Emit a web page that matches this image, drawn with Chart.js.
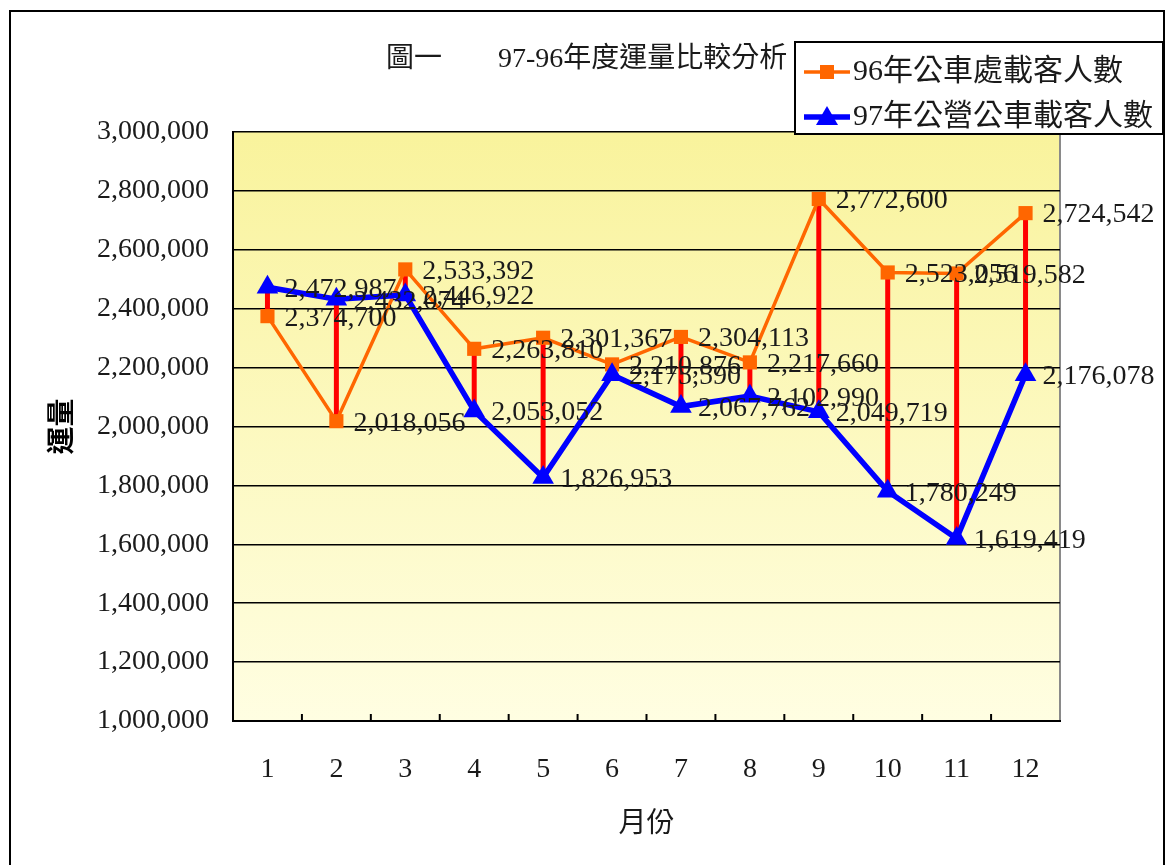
<!DOCTYPE html>
<html>
<head>
<meta charset="utf-8">
<script src="https://cdn.jsdelivr.net/npm/chart.js@4.4.1/dist/chart.umd.min.js"></script>
<style>
  html, body { margin: 0; padding: 0; background: #ffffff; }
  #wrap { width: 1167px; height: 865px; }
</style>
</head>
<body>
<div id="wrap"><canvas id="c" width="1167" height="865"></canvas></div>
<script>
// 月份
const months = ['1', '2', '3', '4', '5', '6', '7', '8', '9', '10', '11', '12'];
// 96年公車處載客人數
const riders96 = [2374700, 2018056, 2533392, 2263810, 2301367, 2210876, 2304113, 2217660, 2772600, 2523056, 2519582, 2724542];
// 97年公營公車載客人數
const riders97 = [2472987, 2432074, 2446922, 2053052, 1826953, 2175590, 2067762, 2102990, 2049719, 1780249, 1619419, 2176078];
// 縱軸刻度範圍
const yMin = 1000000;
const yMax = 3000000;
const yStep = 200000;

const chartTitle = '圖一\u3000\u300097-96年度運量比較分析';
const seriesNames = ['96年公車處載客人數', '97年公營公車載客人數'];

const SERIF = "'Liberation Serif', 'Noto Sans CJK TC', serif";
const fmt = v => v.toLocaleString('en-US');

// 背景、外框、繪圖區漸層
const backdrop = {
  id: 'backdrop',
  beforeDraw(chart) {
    const { ctx, chartArea: a } = chart;
    ctx.save();
    ctx.fillStyle = '#ffffff';
    ctx.fillRect(0, 0, chart.width, chart.height);
    ctx.strokeStyle = '#000000';
    ctx.lineWidth = 2;
    ctx.strokeRect(10, 11, 1154, 870);
    const g = ctx.createLinearGradient(0, a.top, 0, a.bottom);
    g.addColorStop(0, '#f9f39c');
    g.addColorStop(1, '#fffee2');
    ctx.fillStyle = g;
    ctx.fillRect(a.left, a.top, a.right - a.left, a.bottom - a.top);
    ctx.strokeStyle = '#8a8a8a';
    ctx.lineWidth = 2;
    ctx.beginPath();
    ctx.moveTo(a.right, a.top);
    ctx.lineTo(a.right, a.bottom);
    ctx.stroke();
    ctx.restore();
  }
};

// 高低連線 (兩年度同月份之間的紅線)
const hiLoLines = {
  id: 'hiLoLines',
  beforeDatasetsDraw(chart) {
    const { ctx } = chart;
    const m0 = chart.getDatasetMeta(0).data;
    const m1 = chart.getDatasetMeta(1).data;
    ctx.save();
    ctx.strokeStyle = '#ff0000';
    ctx.lineWidth = 5;
    for (let i = 0; i < m0.length; i++) {
      ctx.beginPath();
      ctx.moveTo(m0[i].x, m0[i].y);
      ctx.lineTo(m1[i].x, m1[i].y);
      ctx.stroke();
    }
    ctx.restore();
  }
};

// 數值標籤、類別刻度、標題、圖例
const overlay = {
  id: 'overlay',
  afterDatasetsDraw(chart) {
    const { ctx, chartArea: a } = chart;
    const xs = chart.scales.x;
    ctx.save();
    // 類別間刻度 (向內)
    ctx.strokeStyle = '#000000';
    ctx.lineWidth = 2;
    for (let i = 1; i < months.length; i++) {
      const bx = (xs.getPixelForValue(i - 1) + xs.getPixelForValue(i)) / 2;
      ctx.beginPath();
      ctx.moveTo(bx, a.bottom);
      ctx.lineTo(bx, a.bottom - 7);
      ctx.stroke();
    }
    // 數值標籤
    ctx.fillStyle = '#1a1a1a';
    ctx.font = '28px ' + SERIF;
    ctx.textAlign = 'left';
    ctx.textBaseline = 'middle';
    [0, 1].forEach(d => {
      const pts = chart.getDatasetMeta(d).data;
      const vals = chart.data.datasets[d].data;
      pts.forEach((p, i) => {
        ctx.fillText(fmt(vals[i]), p.x + 17, p.y + 2);
      });
    });
    ctx.restore();
  },
  afterDraw(chart) {
    const { ctx } = chart;
    ctx.save();
    // 標題
    ctx.fillStyle = '#1a1a1a';
    ctx.font = '28px ' + SERIF;
    ctx.textAlign = 'left';
    ctx.textBaseline = 'middle';
    ctx.fillText(chartTitle, 386, 60);
    // 圖例
    const bx = 795, by = 42, bw = 368, bh = 92;
    ctx.fillStyle = '#ffffff';
    ctx.fillRect(bx, by, bw, bh);
    ctx.strokeStyle = '#000000';
    ctx.lineWidth = 2;
    ctx.strokeRect(bx, by, bw, bh);
    const ds = chart.data.datasets;
    const rows = [72, 117];
    rows.forEach((ry, i) => {
      const d = ds[i];
      ctx.strokeStyle = d.borderColor;
      ctx.lineWidth = d.borderWidth;
      ctx.beginPath();
      ctx.moveTo(804, ry);
      ctx.lineTo(850, ry);
      ctx.stroke();
      ctx.fillStyle = d.pointBackgroundColor;
      if (d.pointStyle === 'rect') {
        ctx.fillRect(827 - 7, ry - 7, 14, 14);
      } else {
        ctx.beginPath();
        ctx.moveTo(827, ry - 11);
        ctx.lineTo(827 + 11, ry + 8);
        ctx.lineTo(827 - 11, ry + 8);
        ctx.closePath();
        ctx.fill();
      }
      ctx.fillStyle = '#1a1a1a';
      ctx.font = '30px ' + SERIF;
      ctx.textAlign = 'left';
      ctx.textBaseline = 'middle';
      ctx.fillText(d.label, 853, ry);
    });
    ctx.restore();
  }
};

new Chart(document.getElementById('c'), {
  type: 'line',
  data: {
    labels: months,
    datasets: [
      {
        label: seriesNames[0],
        data: riders96,
        borderColor: '#ff6600',
        backgroundColor: '#ff6600',
        pointBackgroundColor: '#ff6600',
        pointBorderColor: '#ff6600',
        borderWidth: 3.5,
        pointStyle: 'rect',
        pointRadius: 10,
        pointBorderWidth: 0,
        tension: 0,
        order: 1
      },
      {
        label: seriesNames[1],
        data: riders97,
        borderColor: '#0000ff',
        backgroundColor: '#0000ff',
        pointBackgroundColor: '#0000ff',
        pointBorderColor: '#0000ff',
        borderWidth: 5.5,
        pointStyle: 'triangle',
        pointRadius: 12.5,
        pointBorderWidth: 0,
        tension: 0,
        order: 0
      }
    ]
  },
  options: {
    responsive: false,
    animation: false,
    devicePixelRatio: 1,
    layout: { padding: { left: 10, top: 132, right: 107, bottom: 0 } },
    plugins: {
      legend: { display: false },
      title: { display: false },
      tooltip: { enabled: false }
    },
    scales: {
      x: {
        type: 'category',
        offset: true,
        grid: { display: true, drawOnChartArea: false, drawTicks: false },
        border: { display: true, color: '#000000', width: 2 },
        ticks: {
          color: '#1a1a1a',
          font: { family: SERIF, size: 28 },
          padding: 32,
          maxRotation: 0,
          autoSkip: false
        },
        title: {
          display: true,
          text: '月份',
          color: '#1a1a1a',
          font: { family: SERIF, size: 28 },
          padding: { top: 0, bottom: 24 }
        },
        afterFit(s) { s.height = 144; }
      },
      y: {
        min: yMin,
        max: yMax,
        grid: { color: '#000000', lineWidth: 1.5, drawTicks: false },
        border: { display: true, color: '#000000', width: 2 },
        ticks: {
          stepSize: yStep,
          color: '#1a1a1a',
          font: { family: SERIF, size: 28 },
          padding: 24,
          callback: v => fmt(v)
        },
        title: {
          display: true,
          text: '運量',
          color: '#000000',
          font: { family: SERIF, size: 28, weight: 'bold' },
          padding: { top: 37, bottom: 0 }
        },
        afterFit(s) { s.width = 223; }
      }
    }
  },
  plugins: [backdrop, hiLoLines, overlay]
});
</script>
</body>
</html>
